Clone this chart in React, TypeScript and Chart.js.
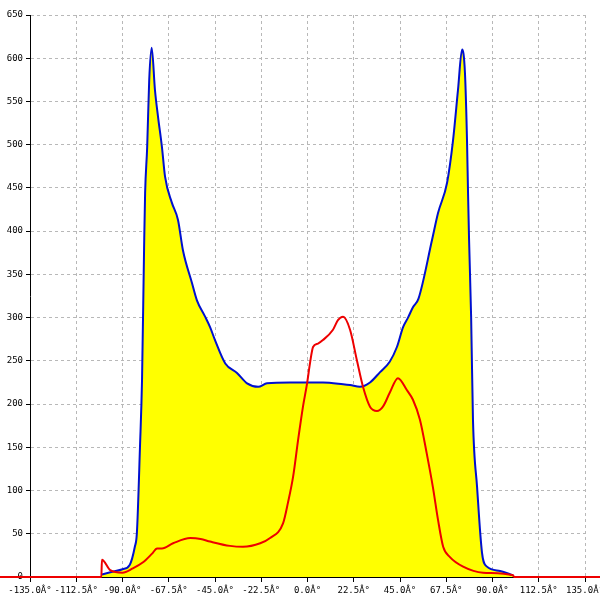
import React, { useEffect, useRef } from "react";
import { Chart, registerables } from "chart.js";

Chart.register(...registerables);

const blueX = [-100, -95, -90, -86.5, -84, -83, -81.5, -80.5, -79.5, -79, -78, -77, -75.8, -74.2, -72.7, -70.8, -69.3, -66, -63, -60.6, -56.2, -53.8, -50, -47.4, -45, -40, -34.3, -29.4, -24, -19.7, -8.5, 7.5, 17.3, 20.7, 25.5, 30.4, 35.3, 40, 43.5, 46.5, 48.9, 51.3, 54, 60.6, 63.5, 67.9, 70.8, 73.2, 75.2, 76.6, 77.6, 78.1, 78.6, 79.6, 80.5, 82.5, 84.9, 87.3, 93.7, 100];
const blueY = [3, 6, 9, 14, 35, 51, 150, 228, 380, 444, 497, 575, 612, 563, 532, 497, 463, 433, 413, 378, 340, 320, 302, 289, 274, 247, 236, 224, 220, 224, 225, 225, 223, 222, 220, 225, 237, 249, 266, 289, 300, 312, 322, 390, 421, 456, 505, 563, 610, 583, 505, 444, 390, 301, 182, 104, 28, 12, 7, 2];

const redX = [-150, -100.3, -100, -96, -90, -85, -80, -75.6, -73.2, -70.8, -65.4, -57, -52, -47.4, -37.7, -31.4, -23, -18.2, -11.9, -9.5, -7, -4.6, -2.2, -0.2, 1.2, 2.7, 5.1, 7.5, 12.4, 14.8, 17.3, 20.7, 24, 27, 30.4, 33.8, 36.7, 40, 44, 48.4, 51.3, 54.7, 58, 61, 63.5, 66, 69.3, 75.7, 85.4, 100, 100.5, 150];
const redY = [0, 0, 20, 8, 5, 10, 17, 27, 33, 33, 39, 45, 44, 41, 36, 35, 39, 45, 62, 86, 116, 158, 197, 224, 247, 266, 270, 274, 286, 297, 301, 286, 251, 220, 197, 192, 197, 213, 230, 216, 205, 182, 143, 104, 66, 35, 23, 12, 5, 2, 0, 0];

const xTicks = [-135, -112.5, -90, -67.5, -45, -22.5, 0, 22.5, 45, 67.5, 90, 112.5, 135];
const yMax = 650;
const yStep = 50;

const FONT = { family: "'DejaVu Sans Mono', monospace", size: 9 };

export default function App() {
  const ref = useRef<HTMLCanvasElement>(null);
  useEffect(() => {
    if (!ref.current) return;
    const chart = new Chart(ref.current, {
      type: "line",
      data: {
        datasets: [
          {
            label: "red",
            data: redX.map((x, i) => ({ x, y: redY[i] })),
            borderColor: "#ee0000",
            borderWidth: 2,
            pointRadius: 0,
            fill: false,
            clip: false as any,
            cubicInterpolationMode: "monotone",
          },
          {
            label: "blue",
            data: blueX.map((x, i) => ({ x, y: blueY[i] })),
            borderColor: "#0010d0",
            backgroundColor: "#ffff00",
            borderWidth: 2,
            pointRadius: 0,
            fill: "origin",
            cubicInterpolationMode: "monotone",
          },
        ],
      },
      options: {
        responsive: false,
        animation: false,
        layout: { padding: { left: 0, right: 55, top: 15, bottom: 0 } },
        plugins: {
          legend: { display: false },
          tooltip: { enabled: false },
          filler: { drawTime: "beforeDatasetsDraw" } as any,
        },
        scales: {
          x: {
            type: "linear",
            min: -135,
            max: 135,
            afterBuildTicks: (s: any) => {
              s.ticks = xTicks.map((v) => ({ value: v }));
            },
            afterFit: (s: any) => {
              s.height = 23;
            },
            ticks: {
              font: FONT,
              color: "#000",
              padding: 3,
              maxRotation: 0,
              autoSkip: false,
              callback: (v: any) => Number(v).toFixed(1) + "Â°",
            },
            grid: {
              color: "#b8b8b8",
              tickColor: "#000",
              tickLength: 5,
              tickBorderDash: [],
            },
            border: { display: true, color: "#000", width: 1, dash: [3, 3] },
          },
          y: {
            type: "linear",
            min: 0,
            max: yMax,
            afterFit: (s: any) => {
              s.width = 30;
            },
            ticks: {
              stepSize: yStep,
              font: FONT,
              color: "#000",
              padding: 3,
            },
            grid: {
              color: "#b8b8b8",
              tickColor: "#000",
              tickLength: 4,
              tickBorderDash: [],
            },
            border: { display: true, color: "#000", width: 1, dash: [3, 3] },
          },
        },
      },
    });
    return () => chart.destroy();
  }, []);
  return (
    <div
      style={{
        position: "fixed",
        left: 0,
        top: 0,
        width: 600,
        height: 600,
        overflow: "hidden",
        background: "#fff",
      }}
    >
      <canvas ref={ref} width={640} height={600} style={{ display: "block" }} />
    </div>
  );
}
